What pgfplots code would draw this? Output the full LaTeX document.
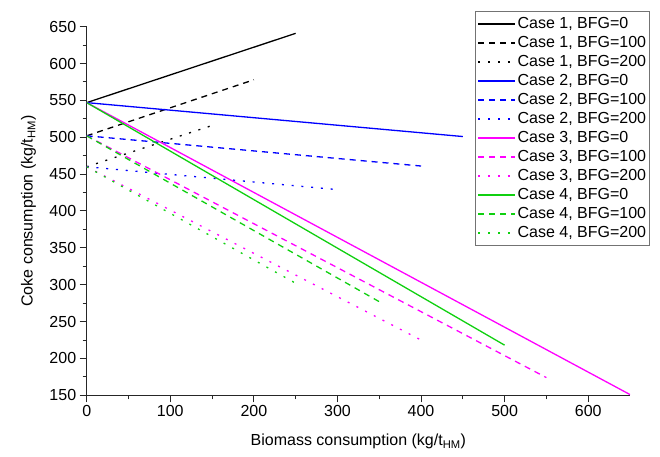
\documentclass[border=0pt]{standalone}
\usepackage{fontspec}
\setmainfont{Liberation Sans}
\usepackage{pgfplots}
\pgfplotsset{compat=1.18}
\definecolor{cblue}{HTML}{0000FF}
\definecolor{cmag}{HTML}{FF00FF}
\definecolor{cgreen}{HTML}{10D010}
\newcommand\ff{\fontsize{16bp}{19bp}\selectfont}
\tikzset{
    ds/.style={dash pattern=on 6bp off 5bp},
    dt/.style={dash pattern=on 2bp off 7.8bp},
}

\begin{document}
\begin{tikzpicture}
\begin{axis}[
    scale only axis,
    width=543.3bp, height=368.6bp,
    axis lines*=left,
    axis line style={line width=1.1bp, draw=black!85},
    xmin=0, xmax=650, ymin=150, ymax=650,
    xtick={0,100,...,600}, ytick={150,200,...,650},
    minor x tick num=1, minor y tick num=1,
    tick align=outside,
    major tick length=7bp, minor tick length=4bp,
    tick style={line width=1bp, draw=black!85},
    ticklabel style={font=\ff},
    /pgf/number format/assume math mode=true,
    xlabel={Biomass consumption (kg/t\textsubscript{HM})},
    ylabel={Coke consumption (kg/t\textsubscript{HM})},
    label style={font=\ff},
    xlabel style={at={(axis description cs:0.5,-0.125)}, anchor=center},
    ylabel style={at={(axis description cs:-0.107,0.5)}, anchor=center},
    legend cell align=left,
    legend style={at={(axis description cs:1.0368,1.0426)}, anchor=north east,
        draw=black!55, line width=0.8bp, font=\ff,
        inner xsep=2bp, inner ysep=3bp, row sep=0bp,
        nodes={inner sep=1.5bp, text height=12.5bp, text depth=3.5bp}},
    legend image code/.code={%
        \draw[mark repeat=2,mark phase=2,#1] plot coordinates {(0bp,0bp) (18.5bp,0bp) (37bp,0bp)};},
    every axis plot/.append style={line width=1.3bp},
]
\addplot[color=black] coordinates {(0,547) (250,641)};
\addlegendentry{Case 1, BFG=0}
\addplot[color=black, ds] coordinates {(0,502) (200,578)};
\addlegendentry{Case 1, BFG=100}
\addplot[color=black, dt] coordinates {(0,460) (150,516)};
\addlegendentry{Case 1, BFG=200}
\addplot[color=cblue] coordinates {(0,547) (450,501)};
\addlegendentry{Case 2, BFG=0}
\addplot[color=cblue, ds] coordinates {(0,502) (400,461)};
\addlegendentry{Case 2, BFG=100}
\addplot[color=cblue, dt] coordinates {(0,460) (300,429)};
\addlegendentry{Case 2, BFG=200}
\addplot[color=cmag] coordinates {(0,547) (650,151)};
\addlegendentry{Case 3, BFG=0}
\addplot[color=cmag, ds] coordinates {(0,502) (550,174)};
\addlegendentry{Case 3, BFG=100}
\addplot[color=cmag, dt] coordinates {(0,460) (400,225)};
\addlegendentry{Case 3, BFG=200}
\addplot[color=cgreen] coordinates {(0,547) (500,218)};
\addlegendentry{Case 4, BFG=0}
\addplot[color=cgreen, ds] coordinates {(0,502) (350,277)};
\addlegendentry{Case 4, BFG=100}
\addplot[color=cgreen, dt] coordinates {(0,460) (250,302)};
\addlegendentry{Case 4, BFG=200}
\end{axis}
\pgfresetboundingbox
\useasboundingbox ([shift={(-86.7bp,-61.7bp)}]current axis.south west) rectangle ([shift={(30bp,26.7bp)}]current axis.north east);
\end{tikzpicture}
\end{document}
